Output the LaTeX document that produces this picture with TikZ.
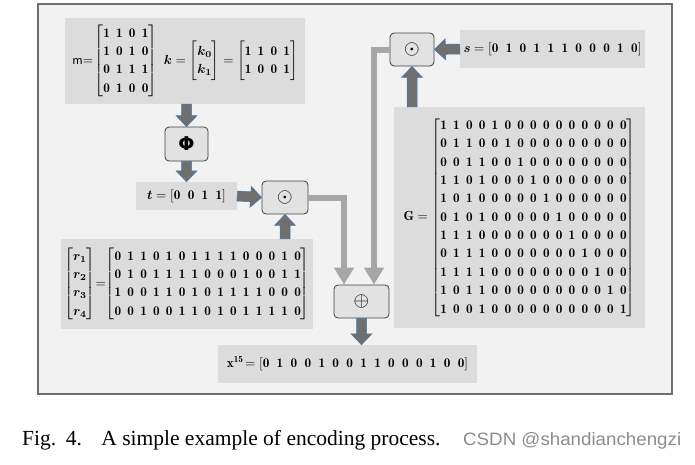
\documentclass[tikz,border=0pt]{standalone}
\usepackage{amsmath}
\usepackage{graphicx}
\usepackage{fontspec}
\usetikzlibrary{calc,arrows.meta}
\newfontfamily\capfont{Liberation Serif}
\newfontfamily\wmfont{Liberation Sans}
\newfontfamily\phifont{DejaVu Sans}
\definecolor{framefill}{HTML}{F2F2F2}
\definecolor{frameline}{HTML}{6E6E6E}
\definecolor{boxfill}{HTML}{DCDCDC}
\definecolor{opfill}{HTML}{E2E2E2}
\definecolor{opline}{HTML}{404040}
\definecolor{arrowgray}{HTML}{6F6F6F}
\definecolor{arrowblue}{HTML}{4A78B0}
\definecolor{linegray}{HTML}{A6A6A6}
\definecolor{wmgray}{HTML}{8C8C8C}
\newcommand{\bitgap}{8.5mu}
\def\bitrow#1{\mathbf{\bitrowaux#1\bitstop}}
\def\bitrowaux#1#2\bitstop{#1\ifx\relax#2\relax\else\mkern\bitgap\bitrowaux#2\bitstop\fi}
\newcommand{\bx}[1]{\scalebox{1.32}{#1}}
\newcommand{\vx}[1]{\renewcommand{\bitgap}{10mu}\scalebox{1.32}{#1}}
\renewcommand{\arraystretch}{1.16}
\tikzset{
  box/.style={rectangle, fill=boxfill, inner sep=0pt},
  opbox/.style={rectangle, rounded corners=4pt, fill=opfill, draw=opline, line width=0.8pt, inner sep=0pt},
  blockarrow/.style={draw=arrowblue, line width=0.5pt, fill=arrowgray, to path={
    ($(\tikztostart)!5pt!90:(\tikztotarget)$) --
    ($(\tikztotarget)!11pt!(\tikztostart)!5pt!-90:(\tikztostart)$) --
    ($(\tikztotarget)!11pt!(\tikztostart)!10.5pt!-90:(\tikztostart)$) --
    (\tikztotarget) --
    ($(\tikztotarget)!11pt!(\tikztostart)!10.5pt!90:(\tikztostart)$) --
    ($(\tikztotarget)!11pt!(\tikztostart)!5pt!90:(\tikztostart)$) --
    ($(\tikztostart)!5pt!-90:(\tikztotarget)$) -- cycle}},
  grayline/.style={draw=linegray, line width=6pt, -{Triangle[width=19pt,length=17pt,fill=linegray]}},
  framebox/.style={fill=framefill, draw=frameline, line width=1.6pt}
}
\begin{document}
\begin{tikzpicture}[x=1pt,y=-1pt]
\useasboundingbox (0,0) rectangle (695,464);
\draw[framebox] (38,4) rectangle (672,394);

\node[box, minimum width=240pt, minimum height=86pt] (m) at (185,61)
  {\bx{\textsf{m}$=\!\begin{bmatrix}\bitrow{1101}\\ \bitrow{1010}\\ \bitrow{0111}\\ \bitrow{0100}\end{bmatrix}\ \boldsymbol{k}=\begin{bmatrix}\boldsymbol{k_0}\\ \boldsymbol{k_1}\end{bmatrix}=\begin{bmatrix}\bitrow{1101}\\ \bitrow{1001}\end{bmatrix}$}};
\node[opbox, minimum width=43pt, minimum height=34pt] (phi) at (186.5,144) {\phifont\bfseries\fontsize{19}{21}\selectfont Φ};
\node[box, minimum width=101pt, minimum height=28pt] (t) at (186.5,196) {\vx{$\boldsymbol{t}=[\bitrow{0011}]$}};
\node[opbox, minimum width=46pt, minimum height=33pt] (od1) at (285,197.5) {\scalebox{2}{$\odot$}};
\node[box, minimum width=252pt, minimum height=90pt] (r) at (187,284)
  {\bx{$\begin{bmatrix}\boldsymbol{r_1}\\ \boldsymbol{r_2}\\ \boldsymbol{r_3}\\ \boldsymbol{r_4}\end{bmatrix}\!{=}\!\begin{bmatrix}\bitrow{011010111100010}\\ \bitrow{010111100010011}\\ \bitrow{100110101111000}\\ \bitrow{001001101011110}\end{bmatrix}$}};
\node[opbox, minimum width=55pt, minimum height=33pt] (op) at (361.5,301.5) {\scalebox{2}{$\oplus$}};
\node[box, minimum width=259pt, minimum height=38pt] (x) at (347.5,364) {\vx{$\mathbf{x}^{\mathbf{15}}\!=[\bitrow{010010011000100}]$}};
\node[opbox, minimum width=44pt, minimum height=33pt] (od2) at (412,49.5) {\scalebox{2}{$\odot$}};
\node[box, minimum width=185pt, minimum height=38pt] (s) at (552.5,49) {\vx{$\boldsymbol{s}=[\bitrow{01011100010}]$}};
\node[box, minimum width=251pt, minimum height=221pt] (G) at (519.5,217.5)
  {\bx{$\mathbf{G}=\begin{bmatrix}
  \bitrow{110010000000000}\\ \bitrow{011001000000000}\\ \bitrow{001100100000000}\\
  \bitrow{110100010000000}\\ \bitrow{101000001000000}\\ \bitrow{010100000100000}\\
  \bitrow{111000000010000}\\ \bitrow{011100000001000}\\ \bitrow{111100000000100}\\
  \bitrow{101100000000010}\\ \bitrow{100100000000001}\end{bmatrix}$}};

\draw[blockarrow] (phi.north |- m.south) to (phi.north);
\draw[blockarrow] (phi.south) to (t.north);
\draw[blockarrow] (t.east) to (od1.west);
\draw[blockarrow] (od1.south |- r.north) to (od1.south);
\draw[blockarrow] (op.south) to (op.south |- x.north);
\draw[blockarrow] (s.west) to (od2.east);
\draw[blockarrow] (od2.south |- G.north) to (od2.south);

\draw[grayline] (od1.east) -| ([xshift=-17.5pt]op.north);
\draw[grayline] (od2.west) -| ([xshift=12.5pt]op.north);

\node[anchor=base west, inner sep=0pt, font=\capfont\fontsize{21.5}{25}\selectfont] (cap) at (22,445)
  {Fig.\hspace{0.45em}4.\hspace{0.9em}A simple example of encoding process.};
\node[anchor=base west, inner sep=0pt, text=wmgray, font=\wmfont] (wm) at (463,445)
  {\resizebox{218pt}{13pt}{CSDN @shandianchengzi}};
\end{tikzpicture}
\end{document}
